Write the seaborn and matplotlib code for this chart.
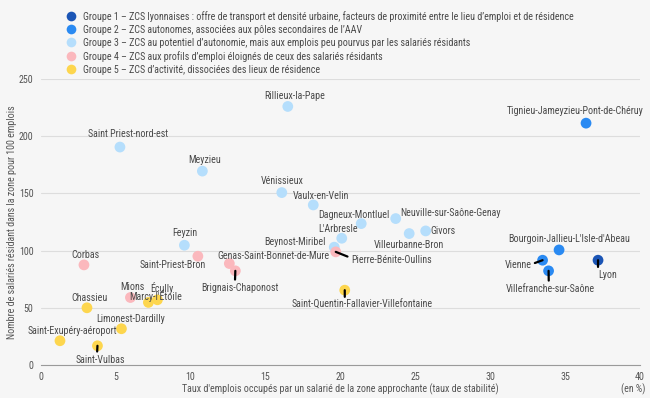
import numpy as np
import pandas as pd
import matplotlib
matplotlib.use('Agg')
import matplotlib.pyplot as plt
from matplotlib import font_manager as fm
import seaborn as sns

# zones, taux de stabilite (x), salaries residants pour 100 emplois (y), groupe
zones = ['Lyon',
         'Tignieu-Jameyzieu-Pont-de-Chéruy', "Bourgoin-Jallieu-L'Isle-d'Abeau", 'Vienne', 'Villefranche-sur-Saône',
         'Rillieux-la-Pape', 'Saint Priest-nord-est', 'Meyzieu', 'Vénissieux', 'Vaulx-en-Velin',
         'Dagneux-Montluel', 'Neuville-sur-Saône-Genay', "L'Arbresle", 'Beynost-Miribel',
         'Villeurbanne-Bron', 'Givors', 'Feyzin',
         'Pierre-Bénite-Oullins', 'Corbas', 'Saint-Priest-Bron', 'Genas-Saint-Bonnet-de-Mure',
         'Brignais-Chaponost', 'Mions',
         'Chassieu', "Marcy-l'Étoile", 'Écully', 'Limonest-Dardilly', 'Saint-Exupéry-aéroport',
         'Saint-Vulbas', 'Saint-Quentin-Fallavier-Villefontaine']
taux = [37.2,
        36.4, 34.6, 33.5, 33.9,
        16.5, 5.3, 10.8, 16.1, 18.2,
        21.4, 23.7, 20.1, 19.6,
        24.6, 25.7, 9.6,
        19.7, 2.9, 10.5, 12.6,
        13.0, 6.0,
        3.1, 7.2, 7.8, 5.4, 1.3,
        3.8, 20.3]
ratio = [91.6,
         211.4, 100.6, 91.6, 82.3,
         226.0, 190.5, 169.5, 150.7, 139.9,
         123.6, 128.0, 110.8, 103.0,
         114.9, 117.2, 104.7,
         98.9, 87.5, 95.1, 88.7,
         82.3, 59.0,
         50.0, 54.7, 57.0, 31.7, 21.2,
         16.8, 65.4]
groupe = [1,
          2, 2, 2, 2,
          3, 3, 3, 3, 3,
          3, 3, 3, 3,
          3, 3, 3,
          4, 4, 4, 4,
          4, 4,
          5, 5, 5, 5, 5,
          5, 5]

legende = ['Groupe 1 – ZCS lyonnaises : offre de transport et densité urbaine, facteurs de proximité entre le lieu d’emploi et de résidence',
           'Groupe 2 – ZCS autonomes, associées aux pôles secondaires de l’AAV',
           'Groupe 3 – ZCS au potentiel d’autonomie, mais aux emplois peu pourvus par les salariés résidants',
           'Groupe 4 – ZCS aux profils d’emploi éloignés de ceux des salariés résidants',
           'Groupe 5 – ZCS d’activité, dissociées des lieux de résidence']
couleurs = ['#1b55b5', '#2a8af2', '#b5defc', '#fbb8bd', '#fdd64e']

df = pd.DataFrame({'zone': zones, 'x': taux, 'y': ratio,
                   'g': [legende[i - 1] for i in groupe]})

# decalage des etiquettes en pixels (dx, dy, ha, depart du trait sur le texte)
etiq = {
    'Lyon': (0, -15, 'left', (0, 1)),
    'Tignieu-Jameyzieu-Pont-de-Chéruy': (-11, 12, 'center', None),
    "Bourgoin-Jallieu-L'Isle-d'Abeau": (10, 11, 'center', None),
    'Vienne': (-11, -5, 'right', (1, 0.6)),
    'Villefranche-sur-Saône': (2, -18, 'center', (0.48, 1)),
    'Rillieux-la-Pape': (7, 10, 'center', None),
    'Saint Priest-nord-est': (8, 13, 'center', None),
    'Meyzieu': (2, 11, 'center', None),
    'Vénissieux': (0, 12, 'center', None),
    'Vaulx-en-Velin': (8, 9, 'center', None),
    'Dagneux-Montluel': (-7, 9, 'center', None),
    'Neuville-sur-Saône-Genay': (5, 6, 'left', None),
    "L'Arbresle": (-4, 9, 'center', None),
    'Beynost-Miribel': (-9, 5, 'right', None),
    'Villeurbanne-Bron': (0, -11, 'center', None),
    'Givors': (5, 0, 'left', None),
    'Feyzin': (0, 12, 'center', None),
    'Pierre-Bénite-Oullins': (15, -8, 'left', (0, 0.7)),
    'Corbas': (1, 10, 'center', None),
    'Saint-Priest-Bron': (8, -9, 'right', None),
    'Genas-Saint-Bonnet-de-Mure': (-12, 8, 'left', None),
    'Brignais-Chaponost': (5, -17, 'center', (0.43, 1)),
    'Mions': (2, 11, 'center', None),
    'Chassieu': (3, 10, 'center', None),
    "Marcy-l'Étoile": (7, 6, 'center', None),
    'Écully': (4, 12, 'center', None),
    'Limonest-Dardilly': (9, 10, 'center', None),
    'Saint-Exupéry-aéroport': (12, 10, 'center', None),
    'Saint-Vulbas': (3, -14, 'center', (0.43, 1)),
    'Saint-Quentin-Fallavier-Villefontaine': (17, -15, 'center', (0.38, 1)),
}

sns.set_theme(style='white')

# police etroite si dispo, sinon Open Sans plus petite
dispo = {f.name for f in fm.fontManager.ttflist}
etroites = ['Liberation Sans Narrow', 'Roboto Condensed', 'Open Sans Condensed',
            'Noto Sans Condensed', 'DejaVu Sans Condensed', 'Arial Narrow']
choix = [f for f in etroites if f in dispo]
if choix:
    plt.rcParams['font.family'] = [choix[0], 'DejaVu Sans']
    fs = 7.2
else:
    plt.rcParams['font.family'] = ['Open Sans', 'DejaVu Sans']
    fs = 6.2

gris = '#555555'
fond = '#f6f6f6'

fig = plt.figure(figsize=(6.5, 3.98), dpi=100, facecolor=fond)
ax = fig.add_axes([40.5 / 650, 1 - 365 / 398, 599.5 / 650, 286 / 398])
ax.set_facecolor(fond)

sns.scatterplot(data=df, x='x', y='y', hue='g', hue_order=legende,
                palette=dict(zip(legende, couleurs)), s=60, linewidth=0,
                ax=ax, zorder=2)

for z, x, y in zip(zones, taux, ratio):
    dx, dy, ha, rel = etiq[z]
    fleche = None
    if rel is not None:
        fleche = dict(arrowstyle='-', color='black', lw=1.6, relpos=rel,
                      shrinkA=0, shrinkB=0)
    ax.annotate(z, xy=(x, y), xytext=(dx, dy), textcoords='offset pixels',
                ha=ha, va='center', fontsize=fs, color='#4a4a4a', zorder=4,
                arrowprops=fleche)

ax.set_xlim(0, 40)
ax.set_ylim(0, 250)
ax.set_xticks(range(0, 41, 5))
ax.set_yticks(range(0, 251, 50))
ax.tick_params(length=0, labelsize=fs, colors=gris, pad=5)
ax.grid(axis='y', color='#dddddd', lw=0.8)
ax.set_axisbelow(True)
for s in ['top', 'right', 'left']:
    ax.spines[s].set_visible(False)
ax.spines['bottom'].set_color('#9a9a9a')
ax.spines['bottom'].set_linewidth(0.8)

ax.set_xlabel("Taux d'emplois occupés par un salarié de la zone approchante (taux de stabilité)",
              fontsize=fs, color=gris)
ax.set_ylabel('Nombre de salariés résidant dans la zone pour 100 emplois',
              fontsize=fs, color=gris)
ax.xaxis.set_label_coords(0.5, (365 - 389) / 286)
ax.yaxis.set_label_coords((12 - 40.5) / 599.5, 0.5)
ax.xaxis.label.set_va('center')
ax.yaxis.label.set_va('center')
fig.text(645 / 650, 1 - 389 / 398, '(en %)', ha='right', va='center',
         fontsize=fs, color=gris)

h, l = ax.get_legend_handles_labels()
ax.legend(h, l, loc='upper left', bbox_to_anchor=(61 / 650, 1 - 11 / 398),
          bbox_transform=fig.transFigure, frameon=False, fontsize=fs,
          labelcolor='#4a4a4a', handletextpad=0.2, labelspacing=0.3,
          borderaxespad=0, borderpad=0, markerscale=0.9)

fig.savefig('out.png', dpi=100, facecolor=fond)
